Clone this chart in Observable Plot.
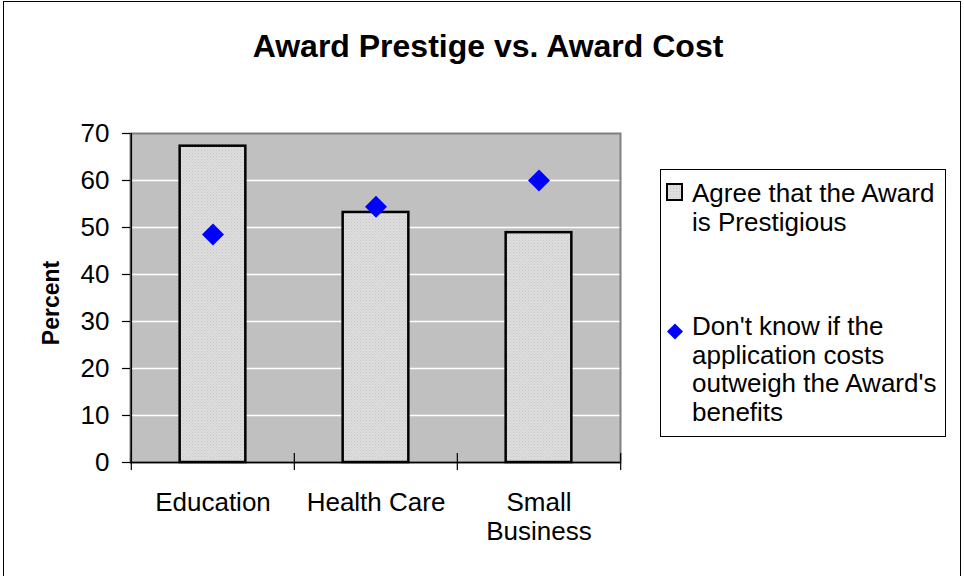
<!DOCTYPE html>
<html>
<head>
<meta charset="utf-8">
<script src="https://cdn.jsdelivr.net/npm/d3@7"></script>
<script src="https://cdn.jsdelivr.net/npm/@observablehq/plot@0.6"></script>
<style>
  html, body { margin: 0; padding: 0; background: #fff; overflow: hidden; }
  #wrap { position: relative; width: 964px; height: 576px; font-family: "Liberation Sans", Arial, sans-serif; color: #000; }
  #border { position: absolute; left: 3px; top: 1px; width: 958px; height: 620px; border: 1.5px solid #000; box-sizing: border-box; }
  #chart { position: absolute; left: 0; top: 0; }
  #title { position: absolute; left: 0; top: 30px; width: 976px; text-align: center; font-weight: bold; font-size: 32px; line-height: 32px; white-space: nowrap; }
  #legend { position: absolute; left: 660px; top: 169px; width: 286px; height: 268px; border: 1px solid #000; box-sizing: border-box; background: #fff; }
  .entry { position: absolute; left: 0; width: 286px; }
  .entry svg { position: absolute; left: 0; top: 0; overflow: visible; }
  .entry .lbl { position: absolute; left: 31px; width: 254px; font-size: 26px; line-height: 28.5px; }
</style>
</head>
<body>
<div id="wrap">
  <div id="border"></div>
  <div id="chart"></div>
  <div id="title"></div>
  <div id="legend"></div>
</div>
<script>
// ---- data ----
const categories = ["Education", "Health Care", "Small Business"];
const agreePrestigious = [67.3, 53.2, 48.9];
const dontKnowCosts = [48.5, 54.4, 60.0];
const yTicks = [0, 10, 20, 30, 40, 50, 60, 70];
const seriesNames = [
  "Agree that the Award is Prestigious",
  "Don't know if the application costs outweigh the Award's benefits"
];
const titleText = "Award Prestige vs. Award Cost";
const yLabel = "Percent";

// ---- layout ----
const FONT = "'Liberation Sans', Arial, sans-serif";
const W = 964, H = 576, mL = 130, mR = 344, mT = 133, mB = 114;
const bw = (W - mL - mR) / categories.length;
const barInset = (bw - 66) / 2;

const rows = categories.map((c, i) => ({category: c, agree: agreePrestigious[i], dontKnow: dontKnowCosts[i]}));

const chart = Plot.plot({
  width: W, height: H,
  marginLeft: mL, marginRight: mR, marginTop: mT, marginBottom: mB,
  style: {fontFamily: FONT, fontSize: "26px", color: "#000", background: "transparent"},
  x: {domain: categories, padding: 0, axis: null},
  y: {domain: [yTicks[0], yTicks[yTicks.length - 1]], axis: null},
  marks: [
    Plot.frame({fill: "#c0c0c0"}),
    Plot.ruleY(yTicks.slice(1, -1), {stroke: "#ffffff", strokeWidth: 1.5}),
    Plot.frame({stroke: "#808080", strokeWidth: 2}),
    Plot.barY(rows, {x: "category", y: "agree", fill: "url(#dots)", stroke: "#000", strokeWidth: 2.5, insetLeft: barInset, insetRight: barInset}),
    Plot.dot(rows, {x: "category", y: "dontKnow", symbol: "diamond2", r: 9.9, fill: "#0000ff", stroke: "none"}),
    Plot.ruleY([yTicks[0]], {stroke: "#000", strokeWidth: 1.5}),
    Plot.ruleX([categories[0]], {x: d => d, dx: -bw / 2, stroke: "#000", strokeWidth: 1.5}),
    Plot.ruleX(categories, {x: d => d, dx: -bw / 2, y1: 0, y2: 0, insetTop: -9, insetBottom: -8, stroke: "#000", strokeWidth: 1.2}),
    Plot.ruleX([categories[categories.length - 1]], {x: d => d, dx: bw / 2, y1: 0, y2: 0, insetTop: -9, insetBottom: -8, stroke: "#000", strokeWidth: 1.2}),
    Plot.axisY({ticks: yTicks, tickSize: 8, tickPadding: 13, label: null, fontSize: 26, stroke: "#000", strokeWidth: 1.2}),
    Plot.axisX({tickSize: 0, tickPadding: 28, label: null, fontSize: 26, lineWidth: 6.3, lineHeight: 1.12}),
    Plot.text([yLabel], {frameAnchor: "left", textAnchor: "middle", rotate: -90, dx: -79, dy: 5, fontWeight: "bold", fontSize: 23, fill: "#000"})
  ]
});

// dotted fill pattern for bars
const svg = d3.select(chart);
const defs = svg.insert("defs", ":first-child");
const pat = defs.append("pattern").attr("id", "dots").attr("patternUnits", "userSpaceOnUse").attr("width", 3).attr("height", 3);
pat.append("rect").attr("width", 3).attr("height", 3).attr("fill", "#dedede");
pat.append("rect").attr("x", 0).attr("y", 0).attr("width", 1).attr("height", 1).attr("fill", "#c6c6c6");
pat.append("rect").attr("x", 1.5).attr("y", 1.5).attr("width", 1).attr("height", 1).attr("fill", "#cacaca");

document.getElementById("chart").appendChild(chart);
document.getElementById("title").textContent = titleText;

// legend
const legend = d3.select("#legend");
const e1 = legend.append("div").attr("class", "entry").style("top", "9px");
const s1 = e1.append("svg").attr("width", 30).attr("height", 30);
const lp = s1.append("defs").append("pattern").attr("id", "dotsL").attr("patternUnits", "userSpaceOnUse").attr("width", 3).attr("height", 3);
lp.append("rect").attr("width", 3).attr("height", 3).attr("fill", "#dedede");
lp.append("rect").attr("width", 1).attr("height", 1).attr("fill", "#c6c6c6");
s1.append("rect").attr("x", 6).attr("y", 5).attr("width", 15).attr("height", 16).attr("fill", "url(#dotsL)").attr("stroke", "#000").attr("stroke-width", 2);
e1.append("div").attr("class", "lbl").style("top", "0px").text(seriesNames[0]);

const e2 = legend.append("div").attr("class", "entry").style("top", "142px");
const s2 = e2.append("svg").attr("width", 30).attr("height", 30);
s2.append("path").attr("transform", "translate(14,19.5)").attr("d", d3.symbol(d3.symbolDiamond2, 165)()).attr("fill", "#0000ff");
e2.append("div").attr("class", "lbl").style("top", "0px").text(seriesNames[1]);
</script>
</body>
</html>
